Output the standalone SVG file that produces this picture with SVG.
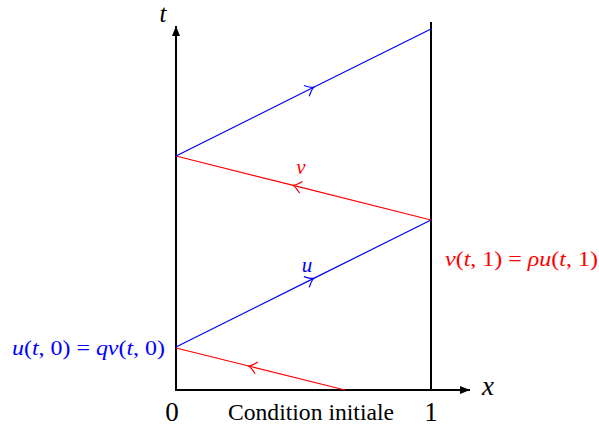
<svg xmlns="http://www.w3.org/2000/svg" width="599" height="430" viewBox="0 0 599 430">
<style>
.f{font-family:"Liberation Serif",serif;}
.i{font-style:italic;}
.axis{stroke:#000;stroke-width:2;fill:none;}
.blue{stroke:#0000ff;stroke-width:1.2;fill:none;marker-mid:url(#chevB);}
.red{stroke:#ff0000;stroke-width:1.2;fill:none;marker-mid:url(#chevR);}
</style>
<defs>
<marker id="axArrow" markerUnits="userSpaceOnUse" markerWidth="14" markerHeight="12" refX="10" refY="5" orient="auto" viewBox="0 0 14 10">
<path d="M0,1 L10,5 L0,9 Z" fill="#000"/>
</marker>
<marker id="chevB" markerUnits="userSpaceOnUse" markerWidth="20" markerHeight="20" refX="10" refY="10" orient="auto" viewBox="0 0 20 20" overflow="visible">
<path d="M2,4 Q7,9 10,10 Q7,11 2,16" stroke="#0000ff" stroke-width="1.2" fill="none"/>
</marker>
<marker id="chevR" markerUnits="userSpaceOnUse" markerWidth="20" markerHeight="20" refX="10" refY="10" orient="auto" viewBox="0 0 20 20" overflow="visible">
<path d="M2,4 Q7,9 10,10 Q7,11 2,16" stroke="#ff0000" stroke-width="1.2" fill="none"/>
</marker>
</defs>
<g id="axes">
<path class="axis" d="M176,390 L176,26" marker-end="url(#axArrow)"/>
<path class="axis" d="M175,390 L470,390" marker-end="url(#axArrow)"/>
<path class="axis" d="M431,390 L431,22"/>
</g>
<g id="connectors">
<path class="red" d="M345,390 L248.7,366 L176,348"/>
<path class="blue" d="M176,347 L313.7,278.4 L431,220"/>
<path class="red" d="M431,220 L293.3,185.4 L176,156"/>
<path class="blue" d="M176,156 L313.7,87.3 L431,29"/>
</g>
<g id="labels">
<text class="f i" x="163" y="22" font-size="25" text-anchor="middle">t</text>
<text class="f i" x="488" y="395" font-size="27" text-anchor="middle">x</text>
<text class="f" x="172" y="421" font-size="27" text-anchor="middle">0</text>
<text class="f" x="431" y="421" font-size="27" text-anchor="middle">1</text>
<text class="f" x="228" y="420" font-size="23" textLength="166" lengthAdjust="spacingAndGlyphs">Condition initiale</text>
<text class="f i" x="301" y="174" font-size="21" text-anchor="middle" fill="#ff0000">v</text>
<text class="f i" x="307" y="272" font-size="21" text-anchor="middle" fill="#0000ff">u</text>
<text class="f" x="12" y="355" font-size="22" fill="#0000ff" textLength="153" lengthAdjust="spacingAndGlyphs"><tspan class="i">u</tspan>(<tspan class="i">t</tspan>, 0) = <tspan class="i">qv</tspan>(<tspan class="i">t</tspan>, 0)</text>
<text class="f" x="445" y="266" font-size="22" fill="#ff0000" textLength="153" lengthAdjust="spacingAndGlyphs"><tspan class="i">v</tspan>(<tspan class="i">t</tspan>, 1) = <tspan class="i">&#961;u</tspan>(<tspan class="i">t</tspan>, 1)</text>
</g>
</svg>
